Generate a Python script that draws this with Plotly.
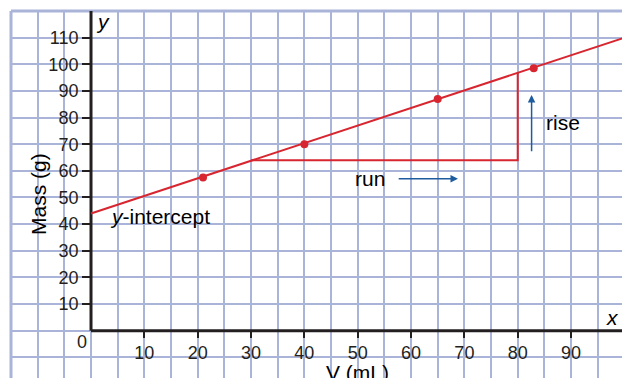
import plotly.graph_objects as go

# ---- data ----
volume_ml = [21, 40, 65, 83]
mass_g = [57.5, 70, 87, 98.5]

fit_x = [0, 100]
fit_y = [44, 110]

slope_tri_x = [30, 80, 80]
slope_tri_y = [64, 64, 97]

x_ticks = [10, 20, 30, 40, 50, 60, 70, 80, 90]
y_ticks = [10, 20, 30, 40, 50, 60, 70, 80, 90, 100, 110]

X_RANGE = [-15, 99.55]
Y_RANGE = [-17.76, 120]

RED = "#d7262f"
BLUE = "#1f5c9e"
GRID = "#aab3d8"
INK = "#231f20"
FONT = "Liberation Sans, Arial, sans-serif"

W, H = 622, 378
ML, MT = 11, 11
pw, ph = W - ML, H - MT

def xfrac(v):
    return (v - X_RANGE[0]) / (X_RANGE[1] - X_RANGE[0])

def yfrac(v):
    return (v - Y_RANGE[0]) / (Y_RANGE[1] - Y_RANGE[0])

fig = go.Figure()

fig.add_trace(go.Scatter(x=fit_x, y=fit_y, mode="lines",
                         line=dict(color=RED, width=2), hoverinfo="skip"))
fig.add_trace(go.Scatter(x=slope_tri_x, y=slope_tri_y, mode="lines",
                         line=dict(color=RED, width=2), hoverinfo="skip"))
fig.add_trace(go.Scatter(x=volume_ml, y=mass_g, mode="markers",
                         marker=dict(color=RED, size=8)))

# axis lines (first quadrant only)
fig.add_shape(type="line", xref="x", yref="y", x0=0, x1=X_RANGE[1] + 5, y0=0, y1=0,
              line=dict(color=INK, width=3), layer="between")
fig.add_shape(type="line", xref="x", yref="y", x0=0, x1=0, y0=0, y1=Y_RANGE[1],
              line=dict(color=INK, width=3), layer="between")
# paper border lines (top and left)
fig.add_shape(type="line", xref="paper", yref="paper", x0=0, x1=1, y0=1, y1=1,
              line=dict(color=GRID, width=3), layer="below")
fig.add_shape(type="line", xref="paper", yref="paper", x0=0, x1=0, y0=0, y1=1,
              line=dict(color=GRID, width=3), layer="below")

tickfont = dict(family=FONT, size=18, color=INK)

fig.update_layout(
    width=W, height=H,
    margin=dict(l=ML, r=0, t=MT, b=0, pad=0),
    paper_bgcolor="white", plot_bgcolor="white",
    showlegend=False,
    xaxis=dict(range=X_RANGE, tickvals=x_ticks, ticks="outside", ticklen=6,
               tickwidth=2, tickcolor=INK, tickfont=tickfont,
               showgrid=True, gridcolor=GRID, gridwidth=1.5,
               minor=dict(dtick=5, tick0=0, showgrid=True, gridcolor=GRID, gridwidth=1.5),
               zeroline=False, showline=False,
               anchor="free", position=yfrac(0), automargin=False),
    yaxis=dict(range=Y_RANGE, tickvals=y_ticks, ticks="outside", ticklen=9,
               tickwidth=2, tickcolor=INK, tickfont=tickfont,
               showgrid=True, gridcolor=GRID, gridwidth=1.5,
               minor=dict(dtick=10, tick0=0, showgrid=True, gridcolor=GRID, gridwidth=1.5),
               zeroline=False, showline=False,
               anchor="free", position=xfrac(0), automargin=False),
)

ann_font = dict(family=FONT, size=21, color="black")
C = dict(xanchor="center", yanchor="middle", showarrow=False)
fig.add_annotation(text="Mass (g)", textangle=-90, xref="paper", yref="paper",
                   x=(38 - ML) / pw, y=(H - 194) / ph, font=ann_font, **C)
fig.add_annotation(text="V (mL)", xref="paper", yref="paper",
                   x=(357 - ML) / pw, y=(H - 372) / ph, font=ann_font, **C)
fig.add_annotation(text="<i>x</i>", xref="x", yref="y", x=97.8, y=5,
                   font=ann_font, **C)
fig.add_annotation(text="<i>y</i>", xref="x", yref="y", x=2.2, y=116,
                   font=ann_font, **C)
fig.add_annotation(text="0", xref="x", yref="y", x=-1.75, y=-4.1,
                   font=tickfont, **C)
fig.add_annotation(text="<i>y</i>-intercept", xref="x", yref="y", x=13.0, y=42.9,
                   font=ann_font, **C)
fig.add_annotation(text="run", xref="x", yref="y", x=52.3, y=57.3,
                   font=ann_font, **C)
fig.add_annotation(text="rise", xref="x", yref="y", x=88.5, y=78.0,
                   font=ann_font, **C)
# blue arrows
fig.add_annotation(text="", xref="x", yref="y", axref="x", ayref="y",
                   x=68.8, y=57.0, ax=57.4, ay=57.0, showarrow=True,
                   arrowhead=2, arrowsize=1, arrowwidth=1.5, arrowcolor=BLUE)
fig.add_annotation(text="", xref="x", yref="y", axref="x", ayref="y",
                   x=82.6, y=88.5, ax=82.6, ay=66.8, showarrow=True,
                   arrowhead=2, arrowsize=1, arrowwidth=1.5, arrowcolor=BLUE)

fig.write_html("out.html", config={"displayModeBar": False},
               post_script="document.body.style.margin='0';document.body.style.overflow='hidden';")
